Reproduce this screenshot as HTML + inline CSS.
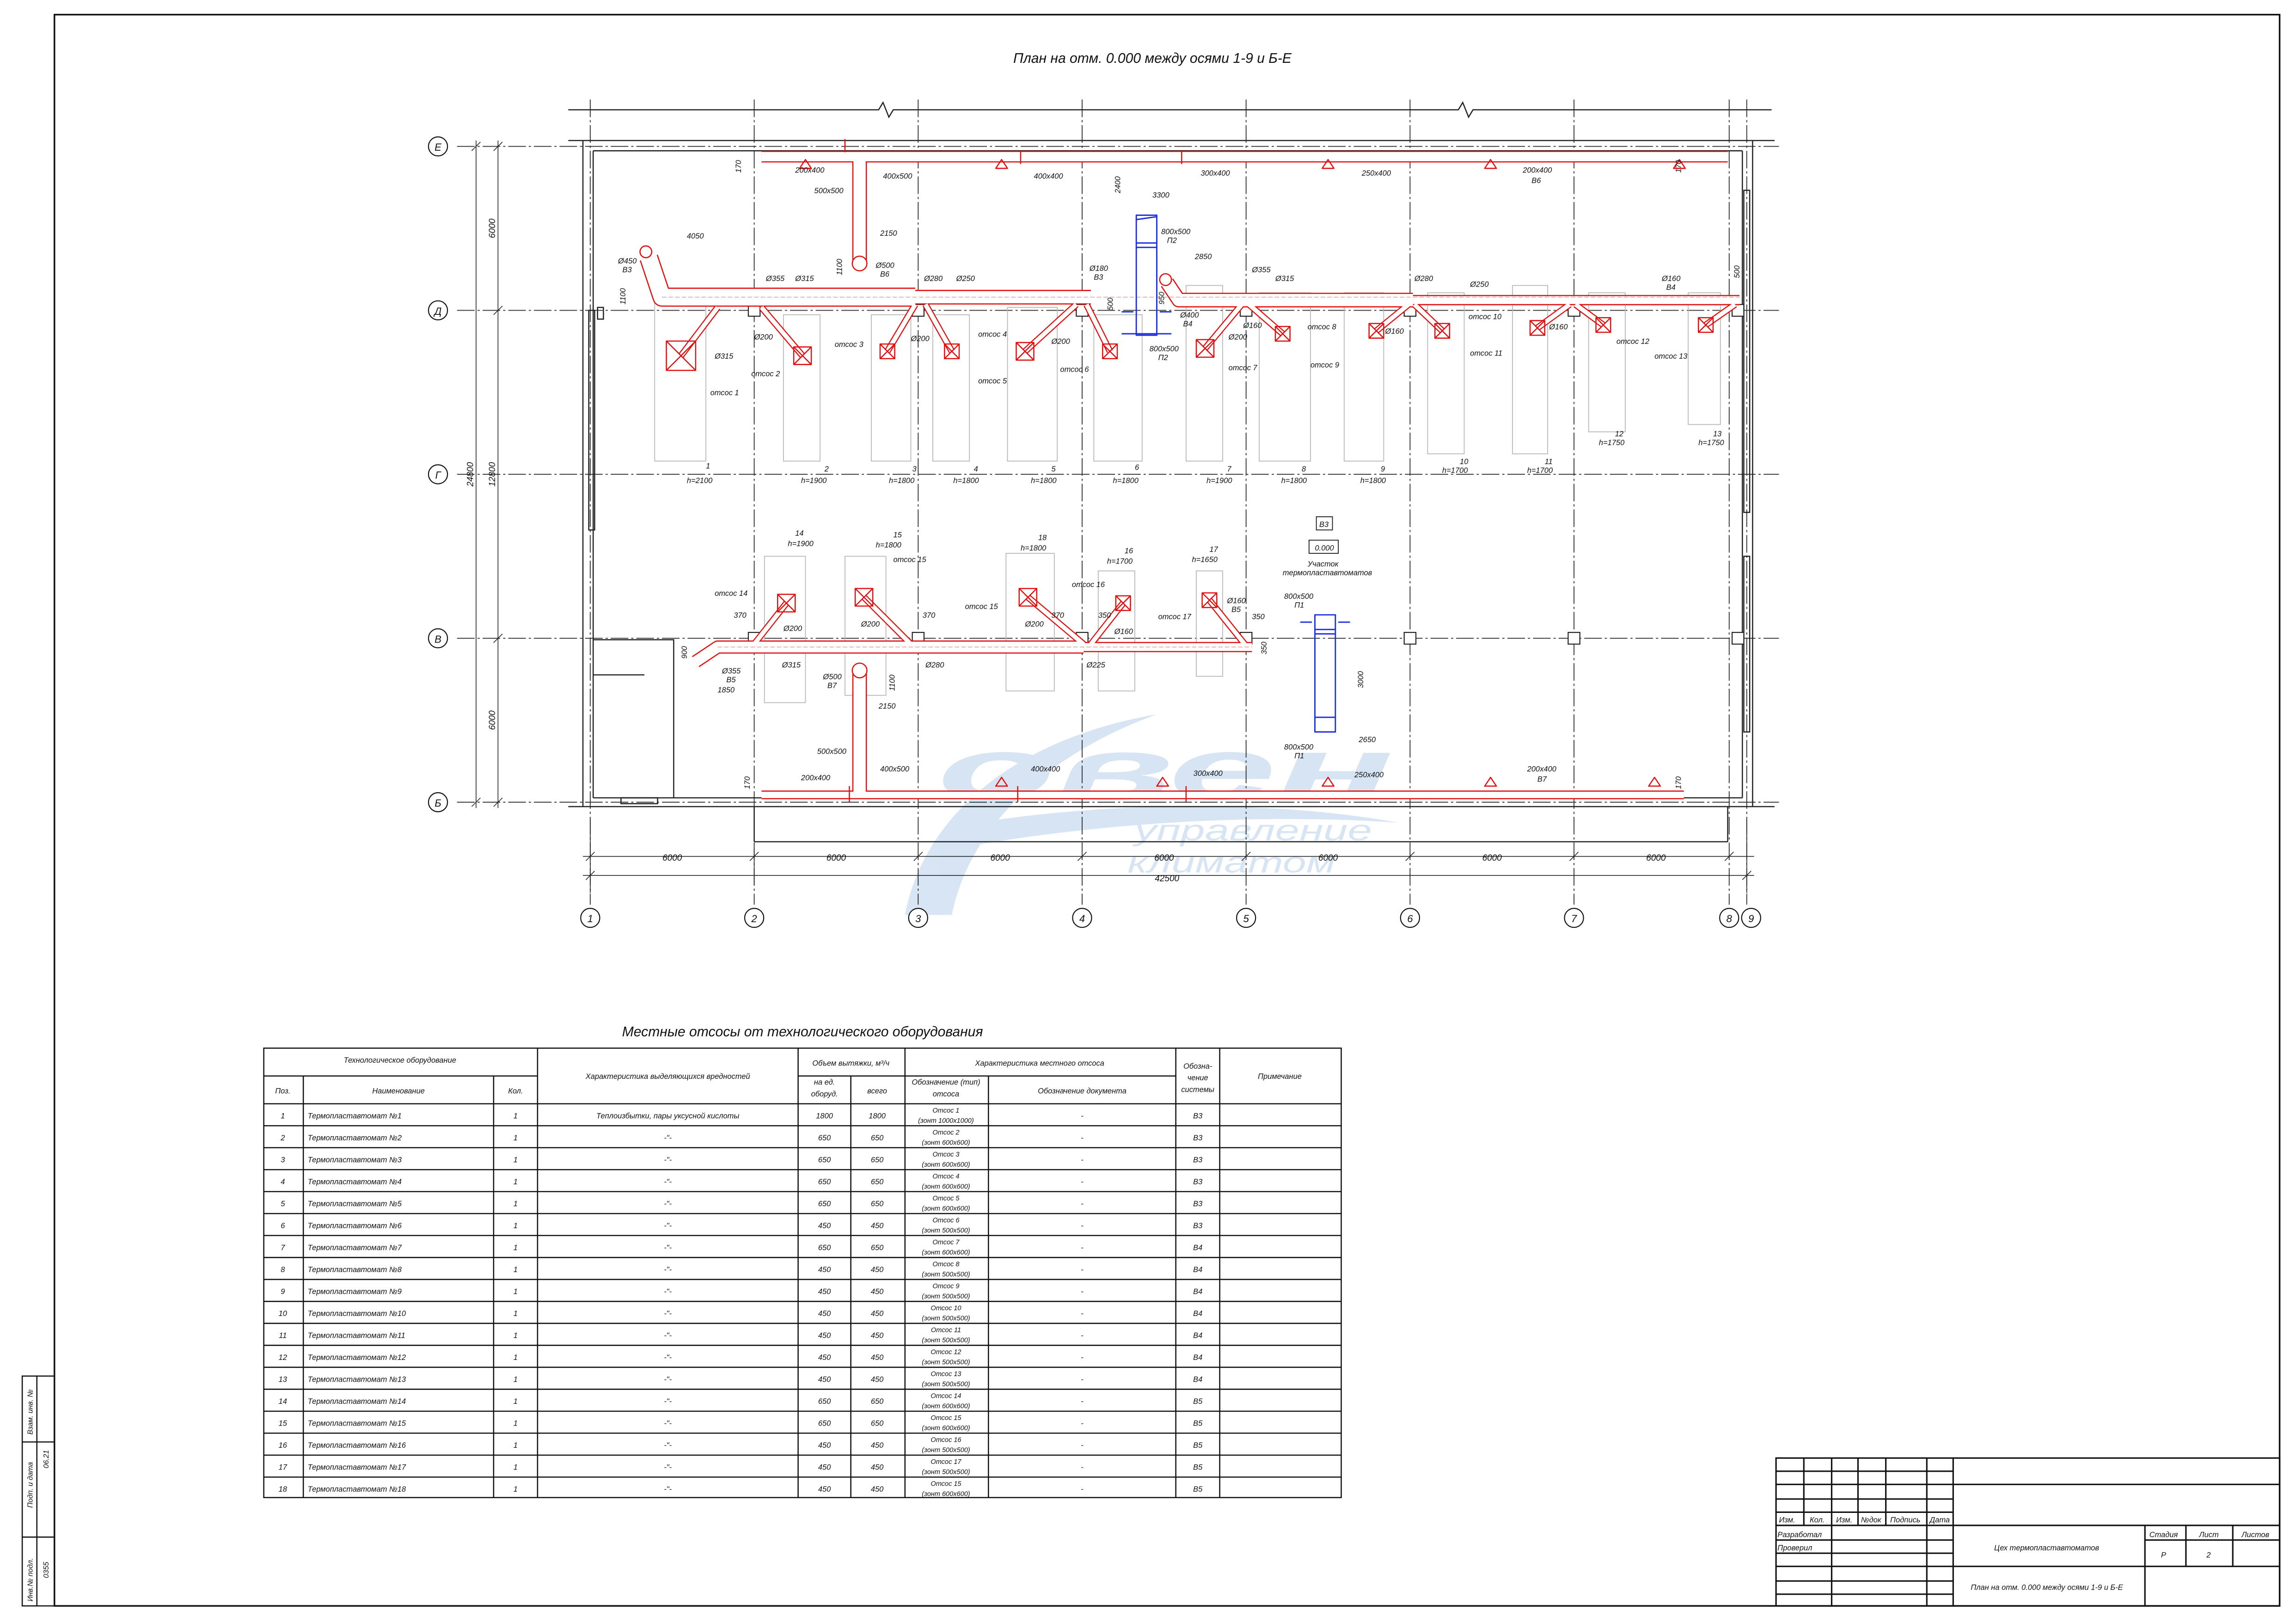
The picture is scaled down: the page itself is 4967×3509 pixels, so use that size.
<!DOCTYPE html>
<html><head><meta charset="utf-8"><style>
html,body{margin:0;padding:0;background:#fff;}
svg{display:block}
text{font-family:"Liberation Sans Narrow","Liberation Sans",sans-serif;font-style:italic;fill:#111}
</style></head><body>
<svg width="4967" height="3509" viewBox="0 0 1568 1108" xmlns="http://www.w3.org/2000/svg">
<rect x="0" y="0" width="1568" height="1108" fill="#fff"/>
<!-- frame -->
<rect x="37" y="10" width="1520" height="1087" fill="none" stroke="#111" stroke-width="1.1"/>
<g stroke="#111" stroke-width="0.8" fill="none">
<rect x="15" y="940" width="22" height="157"/>
<line x1="25" y1="940" x2="25" y2="1097"/><line x1="15" y1="985" x2="37" y2="985"/><line x1="15" y1="1050" x2="37" y2="1050"/>
</g>
<g font-size="5">
<text transform="translate(22,980) rotate(-90)">Взам. инв. №</text>
<text transform="translate(22,1030) rotate(-90)">Подп. и дата</text>
<text transform="translate(22,1094) rotate(-90)">Инв.№ подл.</text>
<text transform="translate(33,1003) rotate(-90)">06.21</text>
<text transform="translate(33,1078) rotate(-90)">0355</text>
</g>
<text x="787" y="43" font-size="9.5" text-anchor="middle">План на отм. 0.000 между осями 1-9 и Б-Е</text>

<!-- watermark -->
<g opacity="0.4" fill="#9cbde3">
<path d="M618,625 C630,560 690,505 790,488 C715,515 662,565 650,625 Z"/>
<path d="M650,565 C760,545 880,548 955,562 C870,556 760,560 650,580 Z"/>
<text x="640" y="546" font-size="60" font-weight="bold" textLength="312" lengthAdjust="spacingAndGlyphs" style="fill:#9cbde3">овен</text>
<text x="775" y="574" font-size="20" textLength="162" lengthAdjust="spacingAndGlyphs" style="fill:#9cbde3">управление</text>
<text x="770" y="596" font-size="20" textLength="142" lengthAdjust="spacingAndGlyphs" style="fill:#9cbde3">климатом</text>
</g>

<!-- axes -->
<g stroke="#333" stroke-width="0.6" stroke-dasharray="12 2 1.5 2" fill="none">
<line x1="312" y1="100" x2="1215" y2="100"/><line x1="312" y1="212" x2="1215" y2="212"/>
<line x1="312" y1="324" x2="1215" y2="324"/><line x1="312" y1="436" x2="1215" y2="436"/>
<line x1="312" y1="548" x2="1215" y2="548"/>
<line x1="403" y1="68" x2="403" y2="618"/><line x1="515" y1="68" x2="515" y2="618"/>
<line x1="627" y1="68" x2="627" y2="618"/><line x1="739" y1="68" x2="739" y2="618"/>
<line x1="851" y1="68" x2="851" y2="618"/><line x1="963" y1="68" x2="963" y2="618"/>
<line x1="1075" y1="68" x2="1075" y2="618"/><line x1="1181" y1="68" x2="1181" y2="618"/>
<line x1="1193" y1="68" x2="1193" y2="618"/>
</g>
<g stroke="#111" stroke-width="0.7" fill="#fff">
<circle cx="299" cy="100" r="6.5"/><circle cx="299" cy="212" r="6.5"/><circle cx="299" cy="324" r="6.5"/><circle cx="299" cy="436" r="6.5"/><circle cx="299" cy="548" r="6.5"/>
<circle cx="403" cy="627" r="6.5"/><circle cx="515" cy="627" r="6.5"/><circle cx="627" cy="627" r="6.5"/><circle cx="739" cy="627" r="6.5"/><circle cx="851" cy="627" r="6.5"/><circle cx="963" cy="627" r="6.5"/><circle cx="1075" cy="627" r="6.5"/><circle cx="1181" cy="627" r="6.5"/><circle cx="1196" cy="627" r="6.5"/>
</g>
<g font-size="7" text-anchor="middle">
<text x="299" y="103">Е</text><text x="299" y="215">Д</text><text x="299" y="327">Г</text><text x="299" y="439">В</text><text x="299" y="551">Б</text>
<text x="403" y="630">1</text><text x="515" y="630">2</text><text x="627" y="630">3</text><text x="739" y="630">4</text><text x="851" y="630">5</text><text x="963" y="630">6</text><text x="1075" y="630">7</text><text x="1181" y="630">8</text><text x="1196" y="630">9</text>
</g>

<!-- walls -->
<g stroke="#222" stroke-width="0.8" fill="none">
<path d="M388,75 H600 L603,70 L607,80 L610,75 H996 L999,70 L1003,80 L1006,75 H1210"/>
<line x1="388" y1="96" x2="1212" y2="96"/><line x1="405" y1="103" x2="1190" y2="103"/>
<line x1="398" y1="96" x2="398" y2="551"/><line x1="405" y1="103" x2="405" y2="545"/>
<line x1="1197" y1="96" x2="1197" y2="551"/><line x1="1190" y1="103" x2="1190" y2="545"/>
<line x1="388" y1="551" x2="1212" y2="551"/><line x1="405" y1="545" x2="1190" y2="545"/>
<line x1="515" y1="575" x2="1180" y2="575"/><line x1="515" y1="551" x2="515" y2="575"/><line x1="1180" y1="551" x2="1180" y2="575"/>
<rect x="402" y="212" width="4" height="150"/><rect x="1191" y="130" width="4" height="220"/><rect x="1191" y="380" width="4" height="120"/>
<path d="M405,437 H460 V545 M405,461 H440"/><rect x="424" y="545" width="25" height="4"/>
<rect x="408" y="210" width="4" height="8"/>
</g>
<g stroke="#222" stroke-width="0.7" fill="#fff">
<rect x="511" y="208" width="8" height="8"/><rect x="623" y="208" width="8" height="8"/><rect x="735" y="208" width="8" height="8"/><rect x="847" y="208" width="8" height="8"/><rect x="959" y="208" width="8" height="8"/><rect x="1071" y="208" width="8" height="8"/><rect x="1183" y="208" width="8" height="8"/>
<rect x="511" y="432" width="8" height="8"/><rect x="623" y="432" width="8" height="8"/><rect x="735" y="432" width="8" height="8"/><rect x="847" y="432" width="8" height="8"/><rect x="959" y="432" width="8" height="8"/><rect x="1071" y="432" width="8" height="8"/><rect x="1183" y="432" width="8" height="8"/>
</g>

<!-- equipment outlines -->
<g stroke="#bbb" stroke-width="0.6" fill="none">
<rect x="447" y="205" width="35" height="110"/><rect x="535" y="215" width="25" height="100"/><rect x="595" y="215" width="27" height="100"/><rect x="637" y="215" width="25" height="100"/><rect x="688" y="210" width="34" height="105"/><rect x="747" y="215" width="33" height="100"/><rect x="810" y="195" width="25" height="120"/><rect x="860" y="200" width="35" height="115"/><rect x="918" y="200" width="27" height="115"/><rect x="975" y="200" width="25" height="110"/><rect x="1033" y="195" width="24" height="115"/><rect x="1085" y="200" width="25" height="95"/><rect x="1153" y="200" width="22" height="90"/>
<rect x="522" y="380" width="28" height="100"/><rect x="577" y="380" width="28" height="95"/><rect x="687" y="378" width="33" height="94"/><rect x="750" y="390" width="25" height="82"/><rect x="817" y="390" width="18" height="72"/>
</g>

<!-- dimensions -->
<g stroke="#222" stroke-width="0.5" fill="none">
<line x1="340" y1="96" x2="340" y2="552"/><line x1="325" y1="96" x2="325" y2="552"/>
<line x1="398" y1="585" x2="1198" y2="585"/><line x1="398" y1="598" x2="1198" y2="598"/>
<path d="M337,103 l6,-6 M337,215 l6,-6 M337,439 l6,-6 M337,551 l6,-6 M322,103 l6,-6 M322,551 l6,-6"/>
<path d="M400,588 l6,-6 M512,588 l6,-6 M624,588 l6,-6 M736,588 l6,-6 M848,588 l6,-6 M960,588 l6,-6 M1072,588 l6,-6 M1178,588 l6,-6 M400,601 l6,-6 M1190,601 l6,-6"/>
<line x1="403" y1="560" x2="403" y2="610"/><line x1="515" y1="580" x2="515" y2="605"/><line x1="1193" y1="560" x2="1193" y2="610"/>
</g>
<g font-size="6" text-anchor="middle">
<text transform="translate(338,156) rotate(-90)">6000</text><text transform="translate(338,324) rotate(-90)">12800</text><text transform="translate(338,492) rotate(-90)">6000</text><text transform="translate(323,324) rotate(-90)">24800</text>
<text x="459" y="588">6000</text><text x="571" y="588">6000</text><text x="683" y="588">6000</text><text x="795" y="588">6000</text><text x="907" y="588">6000</text><text x="1019" y="588">6000</text><text x="1131" y="588">6000</text><text x="797" y="602">42500</text>
</g>

<!-- ducts -->
<g fill="none" stroke-linejoin="round">
<g stroke="#e01010">
<path d="M520,107 H1180" stroke-width="8"/><path d="M587,104 V180" stroke-width="10"/>
<path d="M443,176 L452,203 H625" stroke-width="13"/><path d="M625,203 H745" stroke-width="10"/>
<path d="M797,193 L805,205 H965" stroke-width="10"/><path d="M965,205 H1188" stroke-width="7"/>
<path d="M475,452 L490,442 H740" stroke-width="9"/><path d="M740,442 H855" stroke-width="7"/>
<path d="M587,543 V458" stroke-width="10"/><path d="M520,543 H1150" stroke-width="6"/>
<path d="M490,210 L465,243 M520,210 L548,243 M625,208 L606,240 M632,208 L650,240 M735,208 L700,240 M742,208 L758,240 M848,208 L823,238 M853,208 L876,228 M962,208 L940,226 M966,208 L985,226 M1072,208 L1050,224 M1076,208 L1095,222 M1185,208 L1165,222" stroke-width="4.5"/>
<path d="M515,440 L537,412 M622,440 L590,408 M740,440 L702,408 M745,440 L767,412 M850,440 L826,410" stroke-width="4.5"/>
</g>
<g stroke="#fff">
<path d="M520,107 H1180" stroke-width="6.4"/><path d="M587,104 V180" stroke-width="8.4"/>
<path d="M443,176 L452,203 H625" stroke-width="11.4"/><path d="M625,203 H745" stroke-width="8.4"/>
<path d="M797,193 L805,205 H965" stroke-width="8.4"/><path d="M965,205 H1188" stroke-width="5.4"/>
<path d="M475,452 L490,442 H740" stroke-width="7.4"/><path d="M740,442 H855" stroke-width="5.4"/>
<path d="M587,543 V458" stroke-width="8.4"/><path d="M520,543 H1150" stroke-width="4.4"/>
<path d="M490,210 L465,243 M520,210 L548,243 M625,208 L606,240 M632,208 L650,240 M735,208 L700,240 M742,208 L758,240 M848,208 L823,238 M853,208 L876,228 M962,208 L940,226 M966,208 L985,226 M1072,208 L1050,224 M1076,208 L1095,222 M1185,208 L1165,222" stroke-width="3"/>
<path d="M515,440 L537,412 M622,440 L590,408 M740,440 L702,408 M745,440 L767,412 M850,440 L826,410" stroke-width="3"/>
</g>
<g stroke="#f08080" stroke-width="0.4" stroke-dasharray="3 1.5">
<path d="M452,203 H1188 M490,442 H855"/>
</g>
<g stroke="#e01010" stroke-width="0.8" fill="#fff">
<circle cx="587" cy="180" r="5"/><circle cx="587" cy="458" r="5"/><circle cx="441" cy="172" r="4"/><circle cx="796" cy="191" r="4"/>
<path d="M577,104 V95 M697,103 V112 M807,103 V112 M695,537 V548 M580,537 V548 M810,537 V548"/>
</g>
<!-- hoods -->
<g stroke="#e01010" stroke-width="0.8" fill="none">
<path d="M455,233 h20 v20 h-20 z l20,20 M475,233 l-20,20"/>
<path d="M542,237 h12 v12 h-12 z l12,12 M554,237 l-12,12"/>
<path d="M601,235 h10 v10 h-10 z l10,10 M611,235 l-10,10"/>
<path d="M645,235 h10 v10 h-10 z l10,10 M655,235 l-10,10"/>
<path d="M694,234 h12 v12 h-12 z l12,12 M706,234 l-12,12"/>
<path d="M753,235 h10 v10 h-10 z l10,10 M763,235 l-10,10"/>
<path d="M817,232 h12 v12 h-12 z l12,12 M829,232 l-12,12"/>
<path d="M871,223 h10 v10 h-10 z l10,10 M881,223 l-10,10"/>
<path d="M935,221 h10 v10 h-10 z l10,10 M945,221 l-10,10"/>
<path d="M980,221 h10 v10 h-10 z l10,10 M990,221 l-10,10"/>
<path d="M1045,219 h10 v10 h-10 z l10,10 M1055,219 l-10,10"/>
<path d="M1090,217 h10 v10 h-10 z l10,10 M1100,217 l-10,10"/>
<path d="M1160,217 h10 v10 h-10 z l10,10 M1170,217 l-10,10"/>
<path d="M531,406 h12 v12 h-12 z l12,12 M543,406 l-12,12"/>
<path d="M584,402 h12 v12 h-12 z l12,12 M596,402 l-12,12"/>
<path d="M696,402 h12 v12 h-12 z l12,12 M708,402 l-12,12"/>
<path d="M762,407 h10 v10 h-10 z l10,10 M772,407 l-10,10"/>
<path d="M821,405 h10 v10 h-10 z l10,10 M831,405 l-10,10"/>
<path d="M680,115 l4,-6 l4,6 z M903,115 l4,-6 l4,6 z M1014,115 l4,-6 l4,6 z M1143,115 l4,-6 l4,6 z M546,115 l4,-6 l4,6 z M680,537 l4,-6 l4,6 z M790,537 l4,-6 l4,6 z M903,537 l4,-6 l4,6 z M1014,537 l4,-6 l4,6 z M1126,537 l4,-6 l4,6 z"/>
</g>
<!-- blue ducts -->
<g stroke="#1a2ee0" stroke-width="0.9" fill="none">
<rect x="776" y="147" width="14" height="82"/><path d="M776,166 h14 M776,169 h14 M766,213 h8 M792,213 h8 M766,228 h34 M776,150 l14,-2"/>
<rect x="898" y="420" width="14" height="80"/><path d="M898,430 h14 M898,433 h14 M888,425 h8 M914,425 h8 M898,490 h14"/>
</g>
</g>

<!-- plan labels -->
<g font-size="5.2">
<text x="543" y="118">200х400</text><text x="603" y="122">400х500</text><text x="706" y="122">400х400</text><text x="820" y="120">300х400</text><text x="930" y="120">250х400</text><text x="1040" y="118">200х400</text><text x="1046" y="125">В6</text>
<text x="556" y="132">500х500</text><text x="469" y="163">4050</text><text x="601" y="161">2150</text><text x="787" y="135">3300</text><text x="816" y="177">2850</text>
<text x="422" y="180">Ø450</text><text x="425" y="186">В3</text><text x="598" y="183">Ø500</text><text x="601" y="189">В6</text>
<text x="523" y="192">Ø355</text><text x="543" y="192">Ø315</text><text x="631" y="192">Ø280</text><text x="653" y="192">Ø250</text><text x="744" y="185">Ø180</text><text x="747" y="191">В3</text>
<text x="855" y="186">Ø355</text><text x="871" y="192">Ø315</text><text x="966" y="192">Ø280</text><text x="1004" y="196">Ø250</text><text x="1135" y="192">Ø160</text><text x="1138" y="198">В4</text>
<text x="793" y="160">800х500</text><text x="797" y="166">П2</text><text x="806" y="217">Ø400</text><text x="808" y="223">В4</text><text x="785" y="240">800х500</text><text x="791" y="246">П2</text>
<text x="515" y="232">Ø200</text><text x="488" y="245">Ø315</text><text x="622" y="233">Ø200</text><text x="718" y="235">Ø200</text><text x="839" y="232">Ø200</text><text x="849" y="224">Ø160</text>
<text x="946" y="228">Ø160</text><text x="1058" y="225">Ø160</text>
<text x="485" y="270">отсос 1</text><text x="513" y="257">отсос 2</text><text x="570" y="237">отсос 3</text><text x="668" y="230">отсос 4</text><text x="668" y="262">отсос 5</text><text x="724" y="254">отсос 6</text><text x="839" y="253">отсос 7</text><text x="893" y="225">отсос 8</text><text x="895" y="251">отсос 9</text><text x="1003" y="218">отсос 10</text><text x="1004" y="243">отсос 11</text><text x="1104" y="235">отсос 12</text><text x="1130" y="245">отсос 13</text>
<text x="482" y="320">1</text><text x="469" y="330">h=2100</text><text x="563" y="322">2</text><text x="547" y="330">h=1900</text><text x="623" y="322">3</text><text x="607" y="330">h=1800</text><text x="665" y="322">4</text><text x="651" y="330">h=1800</text><text x="718" y="322">5</text><text x="704" y="330">h=1800</text><text x="775" y="321">6</text><text x="760" y="330">h=1800</text><text x="838" y="322">7</text><text x="824" y="330">h=1900</text><text x="889" y="322">8</text><text x="875" y="330">h=1800</text><text x="943" y="322">9</text><text x="929" y="330">h=1800</text><text x="997" y="317">10</text><text x="985" y="323">h=1700</text><text x="1055" y="317">11</text><text x="1043" y="323">h=1700</text><text x="1103" y="298">12</text><text x="1092" y="304">h=1750</text><text x="1170" y="298">13</text><text x="1160" y="304">h=1750</text>
<text x="543" y="366">14</text><text x="538" y="373">h=1900</text><text x="610" y="367">15</text><text x="598" y="374">h=1800</text><text x="709" y="369">18</text><text x="697" y="376">h=1800</text><text x="768" y="378">16</text><text x="756" y="385">h=1700</text><text x="826" y="377">17</text><text x="814" y="384">h=1650</text>
<text x="488" y="407">отсос 14</text><text x="610" y="384">отсос 15</text><text x="659" y="416">отсос 15</text><text x="732" y="401">отсос 16</text><text x="791" y="423">отсос 17</text>
<text x="501" y="422">370</text><text x="630" y="422">370</text><text x="718" y="422">370</text><text x="750" y="422">350</text><text x="855" y="423">350</text>
<text x="535" y="431">Ø200</text><text x="588" y="428">Ø200</text><text x="700" y="428">Ø200</text><text x="761" y="433">Ø160</text><text x="838" y="412">Ø160</text><text x="841" y="418">В5</text>
<text x="493" y="460">Ø355</text><text x="496" y="466">В5</text><text x="534" y="456">Ø315</text><text x="632" y="456">Ø280</text><text x="742" y="456">Ø225</text><text x="562" y="464">Ø500</text><text x="565" y="470">В7</text>
<text x="490" y="473">1850</text><text x="600" y="484">2150</text><text x="558" y="515">500х500</text><text x="601" y="527">400х500</text><text x="547" y="533">200х400</text><text x="704" y="527">400х400</text><text x="815" y="530">300х400</text><text x="925" y="531">250х400</text><text x="1043" y="527">200х400</text><text x="1050" y="534">В7</text>
<text x="877" y="409">800х500</text><text x="884" y="415">П1</text><text x="877" y="512">800х500</text><text x="884" y="518">П1</text><text x="928" y="507">2650</text>
<text x="901" y="360">В3</text><text x="898" y="376">0.000</text><text x="893" y="387">Участок</text><text x="876" y="393">термопластавтоматов</text>
</g>
<g fill="none" stroke="#222" stroke-width="0.6"><rect x="899" y="353" width="11" height="9"/><rect x="894" y="369" width="20" height="9"/></g>
<g font-size="5.2">
<text transform="translate(506,118) rotate(-90)">170</text><text transform="translate(1148,118) rotate(-90)">170</text><text transform="translate(427,208) rotate(-90)">1100</text><text transform="translate(575,188) rotate(-90)">1100</text><text transform="translate(765,132) rotate(-90)">2400</text><text transform="translate(795,208) rotate(-90)">950</text><text transform="translate(760,212) rotate(-90)">500</text><text transform="translate(1188,190) rotate(-90)">500</text>
<text transform="translate(469,450) rotate(-90)">900</text><text transform="translate(611,472) rotate(-90)">1100</text><text transform="translate(931,470) rotate(-90)">3000</text><text transform="translate(865,447) rotate(-90)">350</text><text transform="translate(512,539) rotate(-90)">170</text><text transform="translate(1148,539) rotate(-90)">170</text>
</g>

<!-- table -->
<text x="548" y="708" font-size="9.5" text-anchor="middle">Местные отсосы от технологического оборудования</text>
<g stroke="#111" stroke-width="0.8" fill="none">
<rect x="180" y="716" width="736" height="307"/>
<line x1="180" y1="735" x2="367" y2="735"/><line x1="545" y1="735" x2="803" y2="735"/>
<line x1="180" y1="754" x2="916" y2="754"/>
<line x1="207" y1="735" x2="207" y2="1023"/><line x1="337" y1="735" x2="337" y2="1023"/><line x1="367" y1="716" x2="367" y2="1023"/><line x1="545" y1="716" x2="545" y2="1023"/><line x1="581" y1="735" x2="581" y2="1023"/><line x1="618" y1="716" x2="618" y2="1023"/><line x1="675" y1="735" x2="675" y2="1023"/><line x1="803" y1="716" x2="803" y2="1023"/><line x1="833" y1="716" x2="833" y2="1023"/>
<path d="M180,769H916M180,784H916M180,799H916M180,814H916M180,829H916M180,844H916M180,859H916M180,874H916M180,889H916M180,904H916M180,919H916M180,934H916M180,949H916M180,964H916M180,979H916M180,994H916M180,1009H916"/>
</g>
<g font-size="5.2" text-anchor="middle">
<text x="273" y="726">Технологическое оборудование</text><text x="456" y="737">Характеристика выделяющихся вредностей</text><text x="581" y="728">Объем вытяжки, м³/ч</text><text x="710" y="728">Характеристика местного отсоса</text>
<text x="193" y="747">Поз.</text><text x="272" y="747">Наименование</text><text x="352" y="747">Кол.</text><text x="563" y="741">на ед.</text><text x="563" y="749">оборуд.</text><text x="599" y="747">всего</text><text x="646" y="741">Обозначение (тип)</text><text x="646" y="749">отсоса</text><text x="739" y="747">Обозначение документа</text>
<text x="818" y="730">Обозна-</text><text x="818" y="738">чение</text><text x="818" y="746">системы</text><text x="874" y="737">Примечание</text>
</g>
<g font-size="5.2" text-anchor="middle">
<text x="193" y="764">1</text><text x="193" y="779">2</text><text x="193" y="794">3</text><text x="193" y="809">4</text><text x="193" y="824">5</text><text x="193" y="839">6</text><text x="193" y="854">7</text><text x="193" y="869">8</text><text x="193" y="884">9</text><text x="193" y="899">10</text><text x="193" y="914">11</text><text x="193" y="929">12</text><text x="193" y="944">13</text><text x="193" y="959">14</text><text x="193" y="974">15</text><text x="193" y="989">16</text><text x="193" y="1004">17</text><text x="193" y="1019">18</text>
<g text-anchor="start">
<text x="210" y="764">Термопластавтомат №1</text><text x="210" y="779">Термопластавтомат №2</text><text x="210" y="794">Термопластавтомат №3</text><text x="210" y="809">Термопластавтомат №4</text><text x="210" y="824">Термопластавтомат №5</text><text x="210" y="839">Термопластавтомат №6</text><text x="210" y="854">Термопластавтомат №7</text><text x="210" y="869">Термопластавтомат №8</text><text x="210" y="884">Термопластавтомат №9</text><text x="210" y="899">Термопластавтомат №10</text><text x="210" y="914">Термопластавтомат №11</text><text x="210" y="929">Термопластавтомат №12</text><text x="210" y="944">Термопластавтомат №13</text><text x="210" y="959">Термопластавтомат №14</text><text x="210" y="974">Термопластавтомат №15</text><text x="210" y="989">Термопластавтомат №16</text><text x="210" y="1004">Термопластавтомат №17</text><text x="210" y="1019">Термопластавтомат №18</text>
</g>
<text x="352" y="764">1</text><text x="352" y="779">1</text><text x="352" y="794">1</text><text x="352" y="809">1</text><text x="352" y="824">1</text><text x="352" y="839">1</text><text x="352" y="854">1</text><text x="352" y="869">1</text><text x="352" y="884">1</text><text x="352" y="899">1</text><text x="352" y="914">1</text><text x="352" y="929">1</text><text x="352" y="944">1</text><text x="352" y="959">1</text><text x="352" y="974">1</text><text x="352" y="989">1</text><text x="352" y="1004">1</text><text x="352" y="1019">1</text>
<text x="456" y="764">Теплоизбытки, пары уксусной кислоты</text><text x="456" y="779">-"-</text><text x="456" y="794">-"-</text><text x="456" y="809">-"-</text><text x="456" y="824">-"-</text><text x="456" y="839">-"-</text><text x="456" y="854">-"-</text><text x="456" y="869">-"-</text><text x="456" y="884">-"-</text><text x="456" y="899">-"-</text><text x="456" y="914">-"-</text><text x="456" y="929">-"-</text><text x="456" y="944">-"-</text><text x="456" y="959">-"-</text><text x="456" y="974">-"-</text><text x="456" y="989">-"-</text><text x="456" y="1004">-"-</text><text x="456" y="1019">-"-</text>
<text x="563" y="764">1800</text><text x="563" y="779">650</text><text x="563" y="794">650</text><text x="563" y="809">650</text><text x="563" y="824">650</text><text x="563" y="839">450</text><text x="563" y="854">650</text><text x="563" y="869">450</text><text x="563" y="884">450</text><text x="563" y="899">450</text><text x="563" y="914">450</text><text x="563" y="929">450</text><text x="563" y="944">450</text><text x="563" y="959">650</text><text x="563" y="974">650</text><text x="563" y="989">450</text><text x="563" y="1004">450</text><text x="563" y="1019">450</text>
<text x="599" y="764">1800</text><text x="599" y="779">650</text><text x="599" y="794">650</text><text x="599" y="809">650</text><text x="599" y="824">650</text><text x="599" y="839">450</text><text x="599" y="854">650</text><text x="599" y="869">450</text><text x="599" y="884">450</text><text x="599" y="899">450</text><text x="599" y="914">450</text><text x="599" y="929">450</text><text x="599" y="944">450</text><text x="599" y="959">650</text><text x="599" y="974">650</text><text x="599" y="989">450</text><text x="599" y="1004">450</text><text x="599" y="1019">450</text>
<g font-size="4.6">
<text x="646" y="760">Отсос 1</text><text x="646" y="767">(зонт 1000х1000)</text>
<text x="646" y="775">Отсос 2</text><text x="646" y="782">(зонт 600х600)</text>
<text x="646" y="790">Отсос 3</text><text x="646" y="797">(зонт 600х600)</text>
<text x="646" y="805">Отсос 4</text><text x="646" y="812">(зонт 600х600)</text>
<text x="646" y="820">Отсос 5</text><text x="646" y="827">(зонт 600х600)</text>
<text x="646" y="835">Отсос 6</text><text x="646" y="842">(зонт 500х500)</text>
<text x="646" y="850">Отсос 7</text><text x="646" y="857">(зонт 600х600)</text>
<text x="646" y="865">Отсос 8</text><text x="646" y="872">(зонт 500х500)</text>
<text x="646" y="880">Отсос 9</text><text x="646" y="887">(зонт 500х500)</text>
<text x="646" y="895">Отсос 10</text><text x="646" y="902">(зонт 500х500)</text>
<text x="646" y="910">Отсос 11</text><text x="646" y="917">(зонт 500х500)</text>
<text x="646" y="925">Отсос 12</text><text x="646" y="932">(зонт 500х500)</text>
<text x="646" y="940">Отсос 13</text><text x="646" y="947">(зонт 500х500)</text>
<text x="646" y="955">Отсос 14</text><text x="646" y="962">(зонт 600х600)</text>
<text x="646" y="970">Отсос 15</text><text x="646" y="977">(зонт 600х600)</text>
<text x="646" y="985">Отсос 16</text><text x="646" y="992">(зонт 500х500)</text>
<text x="646" y="1000">Отсос 17</text><text x="646" y="1007">(зонт 500х500)</text>
<text x="646" y="1015">Отсос 15</text><text x="646" y="1022">(зонт 600х600)</text>
</g>
<text x="739" y="764">-</text><text x="739" y="779">-</text><text x="739" y="794">-</text><text x="739" y="809">-</text><text x="739" y="824">-</text><text x="739" y="839">-</text><text x="739" y="854">-</text><text x="739" y="869">-</text><text x="739" y="884">-</text><text x="739" y="899">-</text><text x="739" y="914">-</text><text x="739" y="929">-</text><text x="739" y="944">-</text><text x="739" y="959">-</text><text x="739" y="974">-</text><text x="739" y="989">-</text><text x="739" y="1004">-</text><text x="739" y="1019">-</text>
<text x="818" y="764">В3</text><text x="818" y="779">В3</text><text x="818" y="794">В3</text><text x="818" y="809">В3</text><text x="818" y="824">В3</text><text x="818" y="839">В3</text><text x="818" y="854">В4</text><text x="818" y="869">В4</text><text x="818" y="884">В4</text><text x="818" y="899">В4</text><text x="818" y="914">В4</text><text x="818" y="929">В4</text><text x="818" y="944">В4</text><text x="818" y="959">В5</text><text x="818" y="974">В5</text><text x="818" y="989">В5</text><text x="818" y="1004">В5</text><text x="818" y="1019">В5</text>
</g>

<!-- title block -->
<g stroke="#111" stroke-width="1" fill="none">
<rect x="1213" y="996" width="344" height="101"/>
<path d="M1232,996V1042 M1251,996V1042 M1269,996V1042 M1288,996V1042 M1316,996V1097 M1334,996V1097 M1251,1042V1097"/>
<path d="M1213,1005H1334 M1213,1014H1557 M1213,1024H1334 M1213,1033H1334 M1213,1042H1557 M1213,1052H1334 M1213,1061H1334 M1213,1070H1557 M1213,1080H1334 M1213,1089H1334"/>
<path d="M1465,1042V1097 M1493,1042V1070 M1525,1042V1070 M1465,1052H1557"/>
</g>
<g font-size="5.2">
<text x="1215" y="1040">Изм.</text><text x="1236" y="1040">Кол.</text><text x="1254" y="1040">Изм.</text><text x="1271" y="1040">№док</text><text x="1291" y="1040">Подпись</text><text x="1318" y="1040">Дата</text>
<text x="1214" y="1050">Разработал</text><text x="1214" y="1059">Проверил</text>
<text x="1362" y="1059">Цех  термопластавтоматов</text><text x="1346" y="1086">План на отм. 0.000 между осями 1-9 и Б-Е</text>
<text x="1468" y="1050">Стадия</text><text x="1502" y="1050">Лист</text><text x="1531" y="1050">Листов</text>
<text x="1476" y="1064">Р</text><text x="1507" y="1064">2</text>
</g>
</svg>
</body></html>
